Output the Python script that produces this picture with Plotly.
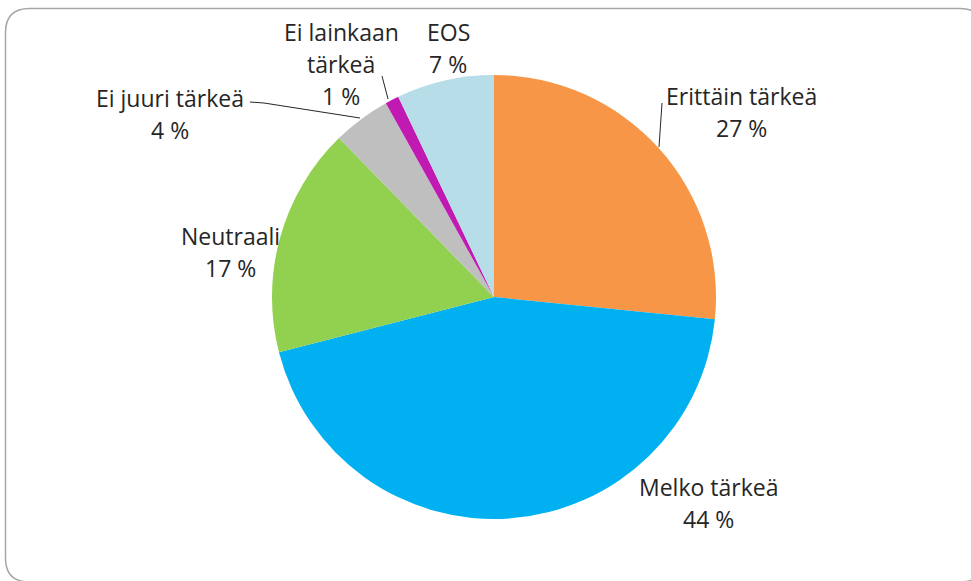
import plotly.graph_objects as go

# ---- data ----
categories = ["Erittäin tärkeä", "Melko tärkeä", "Neutraali", "Ei juuri tärkeä", "Ei lainkaan tärkeä", "EOS"]
values = [26.6, 44.4, 16.7, 4.2, 1.0, 7.1]
colors = ["#F79646", "#00B0F0", "#92D050", "#BFBFBF", "#C01AB2", "#B7DDE8"]

W, H = 971, 581
def px(x):
    return x / W
def py(y):
    return 1 - y / H

# pie geometry (pixels)
cx, cy, r = 494, 297, 222

fig = go.Figure()
fig.add_trace(go.Pie(
    labels=categories, values=values, sort=False, direction="clockwise", rotation=0,
    marker=dict(colors=colors, line=dict(width=0)),
    textinfo="none", hoverinfo="label+percent", showlegend=False,
    domain=dict(x=[px(cx - r), px(cx + r)], y=[py(cy + r), py(cy - r)]),
))

# label layout: lines of name text, centre x, first-line y (pixels)
label_layout = [
    (["Erittäin tärkeä"], 741, 96),
    (["Melko tärkeä"], 708, 487),
    (["Neutraali"], 230, 236),
    (["Ei juuri tärkeä"], 170, 98),
    (["Ei lainkaan", "tärkeä"], 341, 32),
    (["EOS"], 448, 32),
]
line_h = 32
font = dict(family="Open Sans, Liberation Sans, Arial, sans-serif", size=23, color="#262626")
total = sum(values)
annotations = []
for (lines, x, y0), v in zip(label_layout, values):
    texts = lines + [f"{round(v / total * 100)} %"]
    for i, t in enumerate(texts):
        annotations.append(dict(
            x=px(x), y=py(y0 + i * line_h), xref="paper", yref="paper",
            text=t, showarrow=False, font=font, xanchor="center", yanchor="middle",
        ))

shapes = []
# leader lines
leaders = [
    [(662, 103), (659, 147)],
    [(250, 102), (264, 103), (360, 118)],
    [(382, 76), (388, 99)],
]
for pts in leaders:
    path = "M " + " L ".join(f"{px(a)},{py(b)}" for a, b in pts)
    shapes.append(dict(type="path", path=path, xref="paper", yref="paper",
                       line=dict(color="#262626", width=1)))

# rounded outer border
x0, y0, x1, y1, rc = 5.5, 8.5, 984, 582, 24
border = (f"M {px(x0 + rc)},{py(y0)} L {px(x1 - rc)},{py(y0)} "
          f"Q {px(x1)},{py(y0)} {px(x1)},{py(y0 + rc)} L {px(x1)},{py(y1 - rc)} "
          f"Q {px(x1)},{py(y1)} {px(x1 - rc)},{py(y1)} L {px(x0 + rc)},{py(y1)} "
          f"Q {px(x0)},{py(y1)} {px(x0)},{py(y1 - rc)} L {px(x0)},{py(y0 + rc)} "
          f"Q {px(x0)},{py(y0)} {px(x0 + rc)},{py(y0)} Z")
shapes.append(dict(type="path", path=border, xref="paper", yref="paper",
                   line=dict(color="#A6A6A6", width=1.5), layer="below"))

fig.update_layout(
    width=W, height=H, margin=dict(l=0, r=0, t=0, b=0),
    paper_bgcolor="white", plot_bgcolor="white",
    annotations=annotations, shapes=shapes,
)
fig.write_html("out.html", config={"displayModeBar": False},
               post_script="document.body.style.margin='0';document.body.style.overflow='hidden';")
